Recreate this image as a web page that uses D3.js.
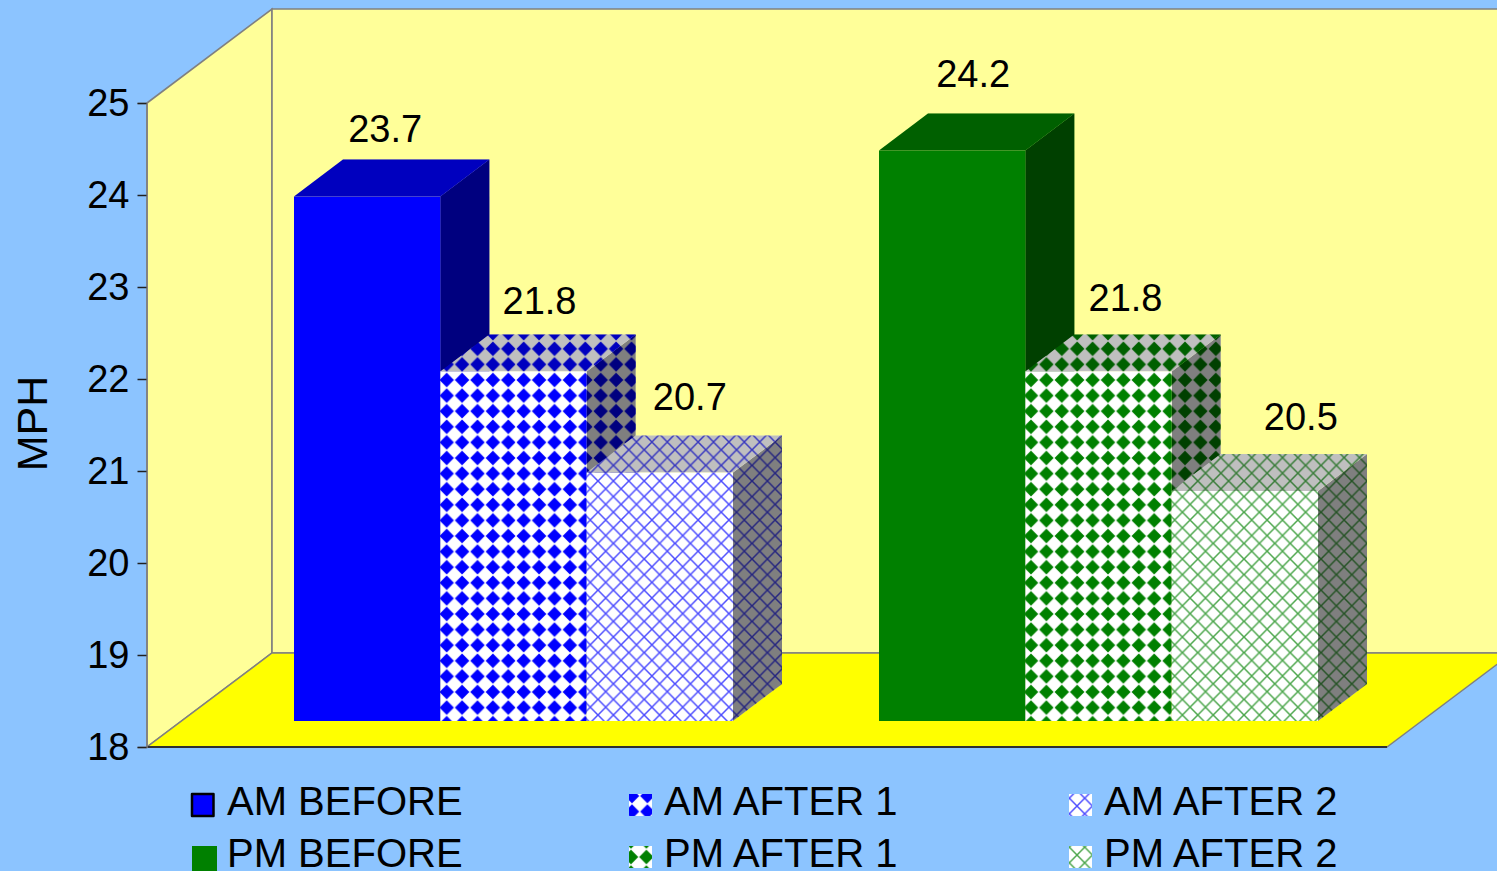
<!DOCTYPE html>
<html>
<head>
<meta charset="utf-8">
<script src="https://cdn.jsdelivr.net/npm/d3@7/dist/d3.min.js"></script>
<style>
html,body{margin:0;padding:0;background:#8cc4ff;overflow:hidden}
svg{display:block}
text{font-family:"Liberation Sans",Arial,sans-serif;fill:#000}
</style>
</head>
<body>
<script>
// Speed survey: average MPH by period, before and after treatment
const periods = ["AM", "PM"];
const phases = ["BEFORE", "AFTER 1", "AFTER 2"];
const amSpeeds = [23.7, 21.8, 20.7];
const pmSpeeds = [24.2, 21.8, 20.5];
const yTicks = [18, 19, 20, 21, 22, 23, 24, 25];
const axisTitle = "MPH";

const W = 1497, H = 871;
const svg = d3.select("body").append("svg").attr("width", W).attr("height", H);
const defs = svg.append("defs");

svg.append("rect").attr("width", W).attr("height", H).attr("fill", "#8cc4ff");

// Plot box: front wall plane and the receding depth of the box
const wall = {left: 147, right: 1387, top: 103, bottom: 747, dx: 125, dy: -94};
const barDepth = {dx: 49, dy: -37};
const floorLift = 26;

const y = d3.scaleLinear().domain([18, 25]).range([wall.bottom, wall.top]);
const groupX = d3.scaleBand().domain(periods).range([294, 1464]);
const barX = d3.scaleBand().domain(phases).range([0, 439]);

const poly = pts => pts.map(p => p.join(",")).join(" ");
const edge = "#808080";

// Walls and floor
svg.append("polygon").attr("fill", "#ffff99").attr("stroke", edge).attr("stroke-width", 1.6)
  .attr("points", poly([[wall.left, wall.bottom], [wall.left, wall.top],
    [wall.left + wall.dx, wall.top + wall.dy], [wall.left + wall.dx, wall.bottom + wall.dy]]));
svg.append("polygon").attr("fill", "#ffff99").attr("stroke", edge).attr("stroke-width", 1.6)
  .attr("points", poly([[wall.left + wall.dx, wall.top + wall.dy], [W + 40, wall.top + wall.dy],
    [W + 40, wall.bottom + wall.dy], [wall.left + wall.dx, wall.bottom + wall.dy]]));
svg.append("polygon").attr("fill", "#ffff00").attr("stroke", edge).attr("stroke-width", 1.4)
  .attr("points", poly([[wall.left, wall.bottom], [wall.right, wall.bottom],
    [wall.right + wall.dx, wall.bottom + wall.dy], [wall.left + wall.dx, wall.bottom + wall.dy]]));
svg.append("line").attr("x1", wall.left).attr("x2", wall.right)
  .attr("y1", wall.bottom).attr("y2", wall.bottom).attr("stroke", "#303030").attr("stroke-width", 2);

// Fill patterns: a diamond lattice and an open diagonal hatch
const tileW = 15.4, tileH = 15.6;
function addPattern(id, kind, color, px, py) {
  const p = defs.append("pattern").attr("id", id).attr("patternUnits", "userSpaceOnUse")
    .attr("width", tileW).attr("height", tileH)
    .attr("patternTransform", `translate(${px},${py})`);
  p.append("rect").attr("width", tileW).attr("height", tileH).attr("fill", "#fff");
  const hw = tileW / 2, hh = tileH / 2;
  if (kind === "diamond") {
    const s = 0.94;
    p.append("path").attr("fill", color)
      .attr("d", `M${hw},${hh - hh * s}L${hw + hw * s},${hh}L${hw},${hh + hh * s}L${hw - hw * s},${hh}Z`);
  } else {
    p.append("path").attr("fill", "none").attr("stroke", color)
      .attr("stroke-width", 1.5).attr("stroke-opacity", 0.7)
      .attr("d", `M0,0L${tileW},${tileH}M${tileW},0L0,${tileH}`);
  }
  return `url(#${id})`;
}

const baseColor = {AM: "#0000ff", PM: "#008000"};
const latticeX = {AM: 439, PM: 1023.3};
const hatchX = {AM: 598, PM: 1182.4};
function barFill(period, phase) {
  if (phase === "BEFORE") return baseColor[period];
  if (phase === "AFTER 1")
    return addPattern(`lat-${period}`, "diamond", baseColor[period], latticeX[period], 372.2);
  return addPattern(`hatch-${period}`, "hatch", baseColor[period], hatchX[period], 481);
}

const speedsByPeriod = {AM: amSpeeds, PM: pmSpeeds};
const baseY = y(18) - floorLift;

// Value label placement relative to each bar's front centre and top
const labelNudge = {
  "AM-BEFORE": [18, -68], "AM-AFTER 1": [26, -70], "AM-AFTER 2": [30, -76],
  "PM-BEFORE": [21, -77], "PM-AFTER 1": [27, -73], "PM-AFTER 2": [56, -74]
};

const plot = svg.append("g");
periods.forEach(period => {
  phases.forEach((phase, i) => {
    const v = speedsByPeriod[period][i];
    const x0 = groupX(period) + barX(phase);
    const x1 = x0 + barX.bandwidth();
    const h = y(18) - y(v);
    const top = baseY - h;
    const d = barDepth;
    const fill = barFill(period, phase);
    const g = plot.append("g");

    const topPts = poly([[x0, top], [x1, top], [x1 + d.dx, top + d.dy], [x0 + d.dx, top + d.dy]]);
    const sidePts = poly([[x1, top], [x1 + d.dx, top + d.dy], [x1 + d.dx, baseY + d.dy], [x1, baseY]]);
    g.append("polygon").attr("points", sidePts).attr("fill", fill);
    g.append("polygon").attr("points", sidePts).attr("fill", "#000").attr("fill-opacity", 0.5);
    g.append("polygon").attr("points", topPts).attr("fill", fill);
    g.append("polygon").attr("points", topPts).attr("fill", "#000").attr("fill-opacity", 0.25);
    g.append("rect").attr("x", x0).attr("y", top).attr("width", x1 - x0).attr("height", h).attr("fill", fill);
  });
});

// Value labels sit above everything else
periods.forEach(period => {
  phases.forEach((phase, i) => {
    const v = speedsByPeriod[period][i];
    const [nx, ny] = labelNudge[`${period}-${phase}`];
    const cx = groupX(period) + barX(phase) + barX.bandwidth() / 2;
    svg.append("text").attr("x", cx + nx).attr("y", baseY - (y(18) - y(v)) + ny)
      .attr("text-anchor", "middle").attr("dominant-baseline", "central")
      .attr("font-size", 38).text(v.toFixed(1));
  });
});

// Value axis
const axis = d3.axisLeft(y).tickValues(yTicks).tickFormat(d3.format("d")).tickSize(9).tickPadding(8);
const axisG = svg.append("g").attr("transform", `translate(${wall.left - 0.5},0)`).call(axis);
axisG.select(".domain").attr("stroke", edge).attr("stroke-width", 1.6);
axisG.selectAll(".tick line").attr("stroke", "#202020").attr("stroke-width", 1.5);
axisG.selectAll(".tick text").attr("font-size", 38).attr("font-family", '"Liberation Sans",Arial,sans-serif').attr("fill", "#000");

svg.append("text").attr("transform", "translate(32,423.5) rotate(-90)")
  .attr("text-anchor", "middle").attr("dominant-baseline", "central")
  .attr("font-size", 43).text(axisTitle);

// Legend: three columns, AM on the first row and PM on the second
const legendCols = {BEFORE: 192, "AFTER 1": 629, "AFTER 2": 1069};
const legendRows = {AM: 794, PM: 846};
const latticeOffset = {AM: [3, 2], PM: [2, 11]};
const hatchOffset = {AM: [8, 12], PM: [8, 9]};
periods.forEach(period => {
  phases.forEach(phase => {
    const lx = legendCols[phase], ly = legendRows[period];
    let fill = baseColor[period], stroke = "none", sw = 23, sh = 22;
    if (phase === "AFTER 1") {
      const [ox, oy] = latticeOffset[period];
      fill = addPattern(`leg-lat-${period}`, "diamond", baseColor[period], lx + ox - tileW / 2, ly + oy - tileH / 2);
    }
    if (phase === "AFTER 2") {
      const [ox, oy] = hatchOffset[period];
      fill = addPattern(`leg-hatch-${period}`, "hatch", baseColor[period], lx + ox - tileW / 2, ly + oy - tileH / 2);
    }
    if (phase === "BEFORE") {
      if (period === "AM") { stroke = "#000"; sw = 21.5; }
      else { sw = 25; sh = 25; }
    }
    svg.append("rect").attr("x", lx).attr("y", ly)
      .attr("width", sw).attr("height", sh)
      .attr("fill", fill).attr("stroke", stroke).attr("stroke-width", 2.5).attr("stroke-linejoin", "round");
    svg.append("text").attr("x", legendCols[phase] + (phase === "BEFORE" ? 35 : 35)).attr("y", period === "AM" ? 815 : 867)
      .attr("font-size", 40).text(`${period} ${phase}`);
  });
});
</script>
</body>
</html>
